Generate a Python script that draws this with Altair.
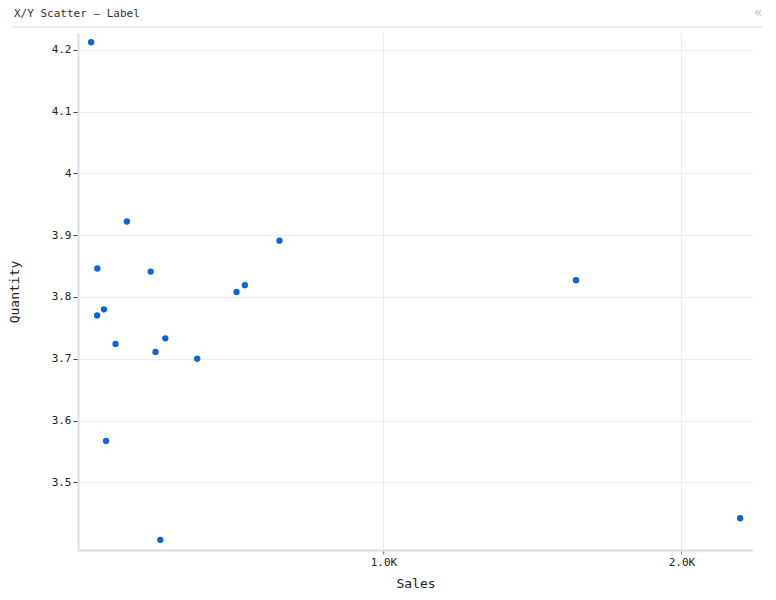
import altair as alt
import pandas as pd

sales = [19, 40, 39, 62, 69, 101, 139, 219, 235, 251, 268, 375, 507, 535, 651, 1646, 2197]
quantity = [4.212, 3.846, 3.770, 3.780, 3.567, 3.724, 3.922, 3.841, 3.711, 3.407,
            3.733, 3.700, 3.808, 3.819, 3.891, 3.827, 3.442]
x_ticks = [1000, 2000]
y_ticks = [3.5, 3.6, 3.7, 3.8, 3.9, 4.0, 4.1, 4.2]
chart_title = "X/Y Scatter — Label"

df = pd.DataFrame({"Sales": sales, "Quantity": quantity})

FONT = "DejaVu Sans Mono"

points = alt.Chart(df).mark_circle(size=40, opacity=1, color="#0A66D8").encode(
    x=alt.X(
        "Sales:Q",
        scale=alt.Scale(domain=[-25, 2240], nice=False, zero=False),
        axis=alt.Axis(
            values=x_ticks,
            labelExpr="format(datum.value / 1000, '.1f') + 'K'",
            title="Sales",
            tickSize=4,
            tickColor="#888888",
            labelPadding=2,
            titlePadding=10,
        ),
    ),
    y=alt.Y(
        "Quantity:Q",
        scale=alt.Scale(domain=[3.3906, 4.227], nice=False, zero=False),
        axis=alt.Axis(
            values=y_ticks,
            format="~g",
            title="Quantity",
            tickSize=5,
            tickColor="#444444",
            labelPadding=2,
            titlePadding=30,
        ),
    ),
)

one = alt.Data(values=[{"a": 1}])

separator = alt.Chart(one).mark_rule(
    color="#dddddd", strokeWidth=1
).encode(x=alt.value(-66), x2=alt.value(685), y=alt.value(-6))

title_text = alt.Chart(one).mark_text(
    text=chart_title, color="#333333", fontSize=11, font=FONT, align="left", baseline="middle"
).encode(x=alt.value(-64), y=alt.value(-19))

chevron = alt.Chart(one).mark_text(
    text="«", color="#bbbbbb", fontSize=14, font="DejaVu Sans", align="center", baseline="middle"
).encode(x=alt.value(680), y=alt.value(-20))

chart = alt.layer(separator, title_text, chevron, points).properties(
    width=675,
    height=517,
    padding={"left": 70, "top": 25, "right": 15, "bottom": 42},
    autosize=alt.AutoSizeParams(type="none"),
    background="white",
).configure_view(stroke=None).configure_axis(
    labelFont=FONT,
    titleFont=FONT,
    labelFontSize=11,
    titleFontSize=13,
    titleFontWeight="normal",
    labelColor="#222222",
    titleColor="#222222",
    domainColor="#dcdce2",
    domainWidth=2,
    gridColor="#ececec",
    gridWidth=1,
)

chart.save("out.html", embed_options={"renderer": "svg", "actions": False})
